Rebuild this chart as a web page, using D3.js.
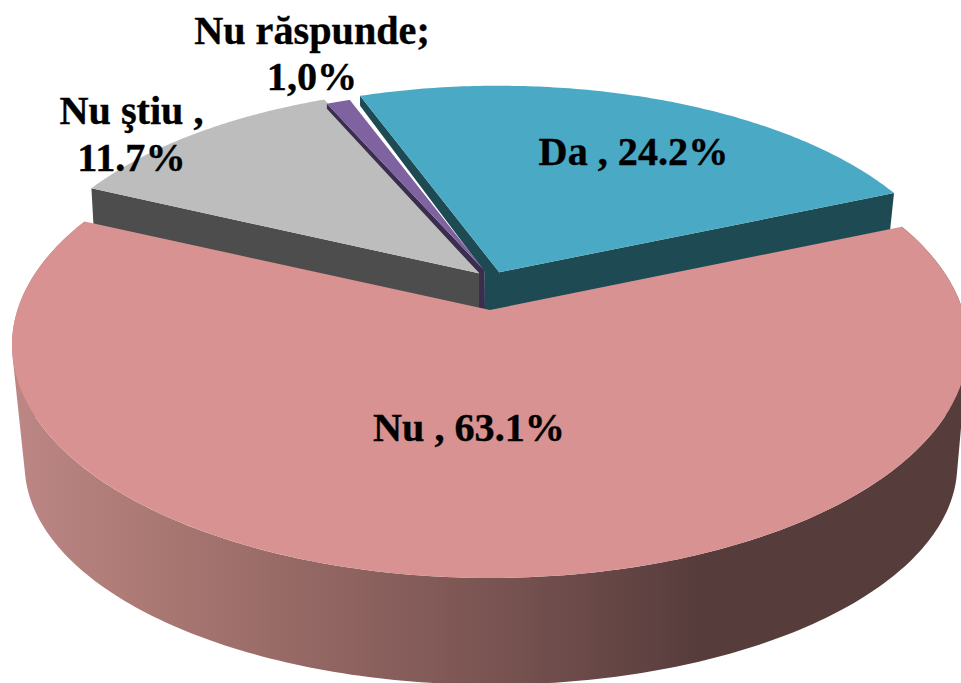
<!DOCTYPE html>
<html><head><meta charset="utf-8">
<script src="https://cdnjs.cloudflare.com/ajax/libs/d3/7.8.5/d3.min.js"></script>
<style>html,body{margin:0;padding:0;background:#fff;overflow:hidden}svg{display:block}
text{font-family:"Liberation Serif","Times New Roman",serif;font-weight:700;fill:#000;stroke:#000;stroke-width:0.35px}</style>
</head><body><svg width="961" height="683"></svg>
<script>
// ---- data ----
const categories = ["Da", "Nu", "Nu ştiu", "Nu răspunde"];
const shares = [24.2, 63.1, 11.7, 1.0];
const labelTexts = [["Da , 24.2%"], ["Nu , 63.1%"], ["Nu ştiu ,", "11.7%"], ["Nu răspunde;", "1,0%"]];
// ---- style / layout ----
const topColors = ["#4aa9c5", "#d89291", "#bdbdbd", "#7f62a0"];
const wallColors = ["#1e4a54", null, "#4d4d4d", "#3a2d4d"];
const explodeU = [0.02, 0, -0.024, -0.013];
const explodeV = [-0.17, 0, -0.165, -0.18];
const radii = [0.985, 1, 0.985, 0.95];
const angleShift = [0, 0.3, 0.9, -0.2];
const labelX = [633.5, 469, 131.5, 312];
const labelY = [[165], [441], [124, 171], [44, 90]];
const startDeg = -20.2;
// projective planes: top face and bottom rim of the disc
const topPlane = {cx: 490, D: 472.6, A: 181.3, B: 310, C: -0.15};
const botPlane = {cx: 491, D: 461, A: 150, B: 432, C: -0.15};
const project = (p, u, v) => {
  const w = 1 + p.C * v;
  return [p.cx + p.D * u / w, (p.A * v + p.B) / w];
};
const svg = d3.select("svg");
const defs = svg.append("defs");
const grad = defs.append("linearGradient").attr("id", "nuWall")
  .attr("gradientUnits", "userSpaceOnUse").attr("x1", 20).attr("x2", 700).attr("y1", 0).attr("y2", 0);
[[0, "#bb8684"], [0.17, "#ad7a75"], [0.68, "#7b5553"], [1, "#573c3c"]].forEach(s =>
  grad.append("stop").attr("offset", s[0]).attr("stop-color", s[1]));

const arcs = d3.pie().sort(null).value(d => d)
  .startAngle(startDeg * Math.PI / 180).endAngle(startDeg * Math.PI / 180 + 2 * Math.PI)(shares);
const line = d3.line();
const polyPath = pts => line(pts) + "Z";

function rim(plane, i, n) {
  const a = arcs[i], r = radii[i], s = angleShift[i] * Math.PI / 180;
  return d3.range(n + 1).map(k => {
    const t = a.startAngle + s + (a.endAngle - a.startAngle) * k / n;
    return project(plane, explodeU[i] + r * Math.sin(t), explodeV[i] - r * Math.cos(t));
  });
}
const apex = i => project(topPlane, explodeU[i], explodeV[i]);
const off = (p, dx, dy) => [p[0] + dx, p[1] + dy];

function drawTop(i) {
  svg.append("path").attr("d", polyPath([apex(i), ...rim(topPlane, i, 120)]))
    .attr("fill", topColors[i]).attr("class", "slice-" + i);
}
function drawFace(i, pts) {
  svg.append("path").attr("d", polyPath(pts)).attr("fill", wallColors[i]);
}
// Da
{
  const r = rim(topPlane, 0, 2), A = apex(0), c0 = r[0], c1 = r[2];
  drawFace(0, [A, c1, off(c1, -4, 38), off(A, -4, 45)]);
  drawFace(0, [c0, off(c0, 0, 10), off(A, -15, -1), off(A, -15, 45), off(A, 0, 45), A]);
  drawTop(0);
}
// Nu stiu
{
  const r = rim(topPlane, 2, 2), A = apex(2), c0 = r[0];
  drawFace(2, [A, c0, off(c0, 2, 36), off(A, 1, 42)]);
  drawTop(2);
}
// Nu raspunde
{
  const r = rim(topPlane, 3, 2), A = apex(3), c0 = r[0];
  drawFace(3, [c0, off(c0, 0, 5), off(A, -5, 3), off(A, -5, 45), off(A, 1, 45), A]);
  drawTop(3);
}
// Nu: outer wall (one path of same-winding quads, so no seams) then top
{
  const n = 240, t = rim(topPlane, 1, n), b = rim(botPlane, 1, n);
  const quads = d3.range(n).map(k => {
    const q = [t[k], t[k + 1], b[k + 1], b[k]];
    return polyPath(d3.polygonArea(q) < 0 ? q.slice().reverse() : q);
  }).join("");
  svg.append("path").attr("d", quads).attr("fill", "url(#nuWall)").attr("fill-rule", "nonzero");
  drawTop(1);
}
// labels
const g = svg.append("g");
labelTexts.forEach((lines, i) => lines.forEach((s, j) => {
  g.append("text").attr("x", labelX[i]).attr("y", labelY[i][j])
    .attr("text-anchor", "middle").attr("font-size", 40.2).text(s);
}));
</script></body></html>
